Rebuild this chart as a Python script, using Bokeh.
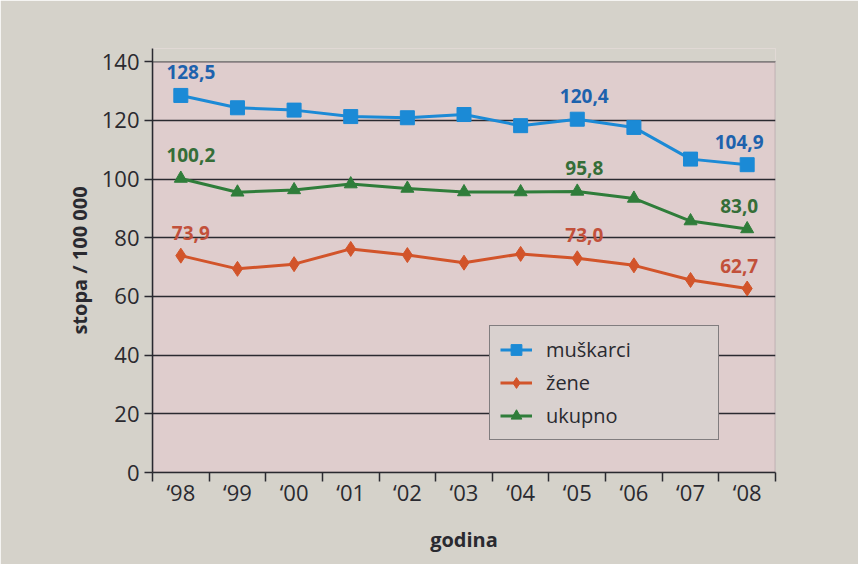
from bokeh.plotting import figure
from bokeh.models import Range1d, FixedTicker, BoxAnnotation, ColumnDataSource, Legend
from bokeh.core.properties import value
from bokeh.embed import file_html
from bokeh.resources import INLINE

# ---- data ----
years = ["\u201898", "\u201899", "\u201800", "\u201801", "\u201802", "\u201803",
         "\u201804", "\u201805", "\u201806", "\u201807", "\u201808"]
muskarci = [128.5, 124.3, 123.5, 121.3, 120.9, 122.0, 118.2, 120.4, 117.6, 106.8, 104.9]
zene = [73.9, 69.4, 71.0, 76.2, 74.1, 71.5, 74.5, 73.0, 70.6, 65.6, 62.7]
ukupno = [100.2, 95.5, 96.3, 98.3, 96.8, 95.6, 95.6, 95.8, 93.4, 85.7, 83.0]
labelled = [0, 7, 10]          # indices of years with value labels
y_ticks = [0, 20, 40, 60, 80, 100, 120, 140]

series_names = ["muškarci", "žene", "ukupno"]

# ---- style ----
FONT = "Open Sans"
BORDER = "#d5d2ca"
PLOT_BG = "#dfcdcd"
DARK = "#2a2a30"
line_colors = ["#1b8ad6", "#d2542a", "#2f7d3a"]
text_colors = ["#1d62ad", "#c2503a", "#356e38"]
markers = ["square", "diamond", "triangle"]
marker_sizes = [14, 15, 13]
label_dx = [10, 7, -8]

xs = [i + 0.5 for i in range(len(years))]

p = figure(width=858, height=564, output_backend="svg", toolbar_location=None,
           x_range=Range1d(0, len(years)), y_range=Range1d(0, 144.5),
           min_border_left=152, min_border_right=83, min_border_top=48,
           min_border_bottom=92)
p.background_fill_color = PLOT_BG
p.border_fill_color = BORDER
p.outline_line_color = None

# region above 140 is paper colour
p.add_layout(BoxAnnotation(bottom=140, fill_color=BORDER, fill_alpha=1,
                           line_alpha=0, level="underlay"))

# axes
p.yaxis.ticker = FixedTicker(ticks=y_ticks)
p.xaxis.ticker = FixedTicker(ticks=xs, minor_ticks=list(range(len(years) + 1)))
p.xaxis.major_label_overrides = {x: y for x, y in zip(xs, years)}
for ax in (p.xaxis[0], p.yaxis[0]):
    ax.axis_line_color = DARK
    ax.axis_line_width = 1.5
    ax.major_label_text_font = FONT
    ax.major_label_text_font_size = "22px"
    ax.major_label_text_color = DARK
    ax.axis_label_text_font = FONT
    ax.axis_label_text_font_size = "20px"
    ax.axis_label_text_font_style = "bold"
    ax.axis_label_text_color = DARK
p.yaxis.major_tick_line_color = DARK
p.yaxis.major_tick_line_width = 1.5
p.yaxis.major_tick_out = 8
p.yaxis.major_tick_in = 0
p.yaxis.minor_tick_line_color = None
p.yaxis.major_label_standoff = 5
p.yaxis.axis_label = "stopa / 100 000"
p.yaxis.axis_label_standoff = 6
p.xaxis.major_tick_line_color = None
p.xaxis.major_tick_out = 0
p.xaxis.major_tick_in = 0
p.xaxis.minor_tick_line_color = DARK
p.xaxis.minor_tick_line_width = 1.5
p.xaxis.minor_tick_out = 9
p.xaxis.minor_tick_in = 0
p.xaxis.major_label_standoff = -5
p.xaxis.axis_label = "godina"
p.xaxis.axis_label_standoff = 16

p.xgrid.grid_line_color = None
p.ygrid.grid_line_color = DARK
p.ygrid.grid_line_width = 1.3
p.ygrid.ticker = FixedTicker(ticks=y_ticks)

# frame box
p.add_layout(BoxAnnotation(left=0, right=len(years), bottom=0, top=140,
                           fill_alpha=0, line_color=DARK, line_width=1.5))

items = []
for name, vals, lc, tc, mk, ms in zip(series_names, [muskarci, zene, ukupno],
                                      line_colors, text_colors, markers, marker_sizes):
    src = ColumnDataSource(dict(x=xs, y=vals))
    r1 = p.line("x", "y", source=src, line_color=lc, line_width=3)
    r2 = p.scatter("x", "y", source=src, marker=mk, size=ms,
                   fill_color=lc, line_color=lc)
    items.append((name, [r1, r2]))
    lsrc = ColumnDataSource(dict(
        x=[xs[i] for i in labelled],
        y=[vals[i] for i in labelled],
        t=[f"{vals[i]:.1f}".replace(".", ",") for i in labelled],
        dx=label_dx))
    p.text("x", "y", text="t", source=lsrc, x_offset="dx", y_offset=-23,
           text_align="center", text_baseline="middle",
           text_font=value(FONT), text_font_size="19px", text_font_style="bold",
           text_color=tc)

legend = Legend(items=items, location=(337, 32))
legend.label_text_font = FONT
legend.label_text_font_size = "20px"
legend.label_text_color = DARK
legend.background_fill_color = "#d9d1cf"
legend.background_fill_alpha = 1
legend.border_line_color = DARK
legend.border_line_width = 1.5
legend.padding = 10
legend.spacing = 6
legend.label_height = 27
legend.glyph_height = 27
legend.glyph_width = 32
legend.label_standoff = 14
legend.label_width = 162
legend.margin = 0
p.add_layout(legend)

open("out.html", "w").write(file_html(p, INLINE))
